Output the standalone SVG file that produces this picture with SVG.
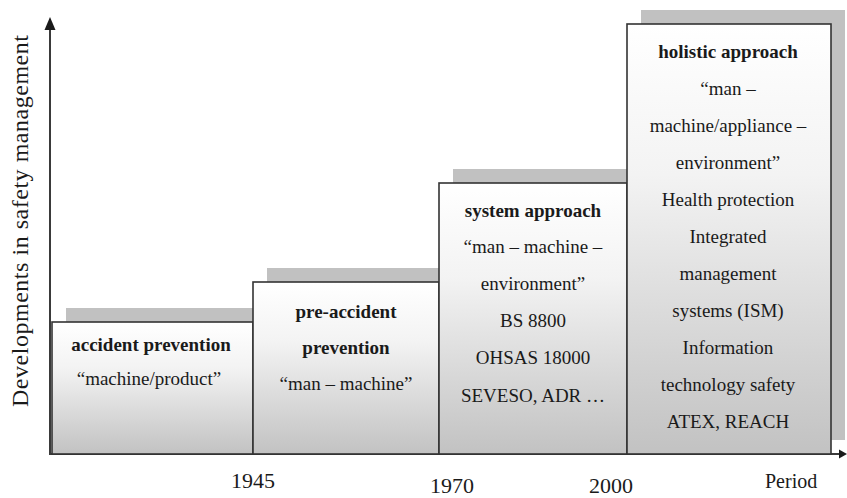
<svg xmlns="http://www.w3.org/2000/svg" width="847" height="498" viewBox="0 0 847 498">
<defs>
<linearGradient id="boxGrad" x1="0" y1="0" x2="0" y2="1">
<stop offset="0" stop-color="#ffffff"/>
<stop offset="0.35" stop-color="#f3f3f3"/>
<stop offset="1" stop-color="#c2c2c2"/>
</linearGradient>
</defs>
<style>
.shadow{fill:#c1c1c1;stroke:none}
.box{fill:url(#boxGrad);stroke:#333333;stroke-width:1.6}
.axis{stroke:#3a3a3a;stroke-width:2;fill:none}
.head{fill:#1a1a1a}
text{font-family:"Liberation Serif","Times New Roman",serif;fill:#1a1a1a}
.t{font-size:19px;text-anchor:middle}
.b{font-size:19px;font-weight:bold;text-anchor:middle}
.yr{font-size:22px;text-anchor:middle}
</style>
<g id="shadows">
<rect class="shadow" x="66" y="308" width="201" height="132"/>
<rect class="shadow" x="267" y="268" width="186" height="172"/>
<rect class="shadow" x="453" y="169" width="188" height="271"/>
<rect class="shadow" x="641" y="10" width="204" height="430"/>
</g>
<g id="connectors">
<line class="axis" x1="50" y1="455" x2="50" y2="28"/>
<polygon class="head" points="50,17 44.5,30 55.5,30"/>
<line class="axis" x1="49" y1="454" x2="840" y2="454"/>
<polygon class="head" points="847,454 839,449.5 839,458.5"/>
</g>
<g id="node-accident-prevention">
<rect class="box" x="52" y="322" width="201" height="132"/>
<text class="b" x="151" y="351">accident prevention</text>
<text class="t" x="149" y="385">“machine/product”</text>
</g>
<g id="node-pre-accident-prevention">
<rect class="box" x="253" y="282" width="186" height="172"/>
<text class="b" x="346" y="318">pre-accident</text>
<text class="b" x="346" y="354">prevention</text>
<text class="t" x="346" y="390">“man – machine”</text>
</g>
<g id="node-system-approach">
<rect class="box" x="439" y="183" width="188" height="271"/>
<text class="b" x="533" y="217">system approach</text>
<text class="t" x="533" y="253">“man – machine –</text>
<text class="t" x="533" y="290">environment”</text>
<text class="t" x="533" y="327">BS 8800</text>
<text class="t" x="533" y="364">OHSAS 18000</text>
<text class="t" x="533" y="402">SEVESO, ADR …</text>
</g>
<g id="node-holistic-approach">
<rect class="box" x="627" y="24" width="204" height="430"/>
<text class="b" x="728" y="58">holistic approach</text>
<text class="t" x="728" y="95">“man –</text>
<text class="t" x="728" y="132">machine/appliance –</text>
<text class="t" x="728" y="169">environment”</text>
<text class="t" x="728" y="206">Health protection</text>
<text class="t" x="728" y="243">Integrated</text>
<text class="t" x="728" y="280">management</text>
<text class="t" x="728" y="317">systems (ISM)</text>
<text class="t" x="728" y="354">Information</text>
<text class="t" x="728" y="391">technology safety</text>
<text class="t" x="728" y="428">ATEX, REACH</text>
</g>
<g id="axis-labels">
<text transform="translate(28,221) rotate(-90)" font-size="24" text-anchor="middle" textLength="372" lengthAdjust="spacing">Developments in safety management</text>
<text class="yr" x="253" y="488">1945</text>
<text class="yr" x="452" y="493">1970</text>
<text class="yr" x="611" y="493">2000</text>
<text x="765" y="488" font-size="20">Period</text>
</g>
</svg>
